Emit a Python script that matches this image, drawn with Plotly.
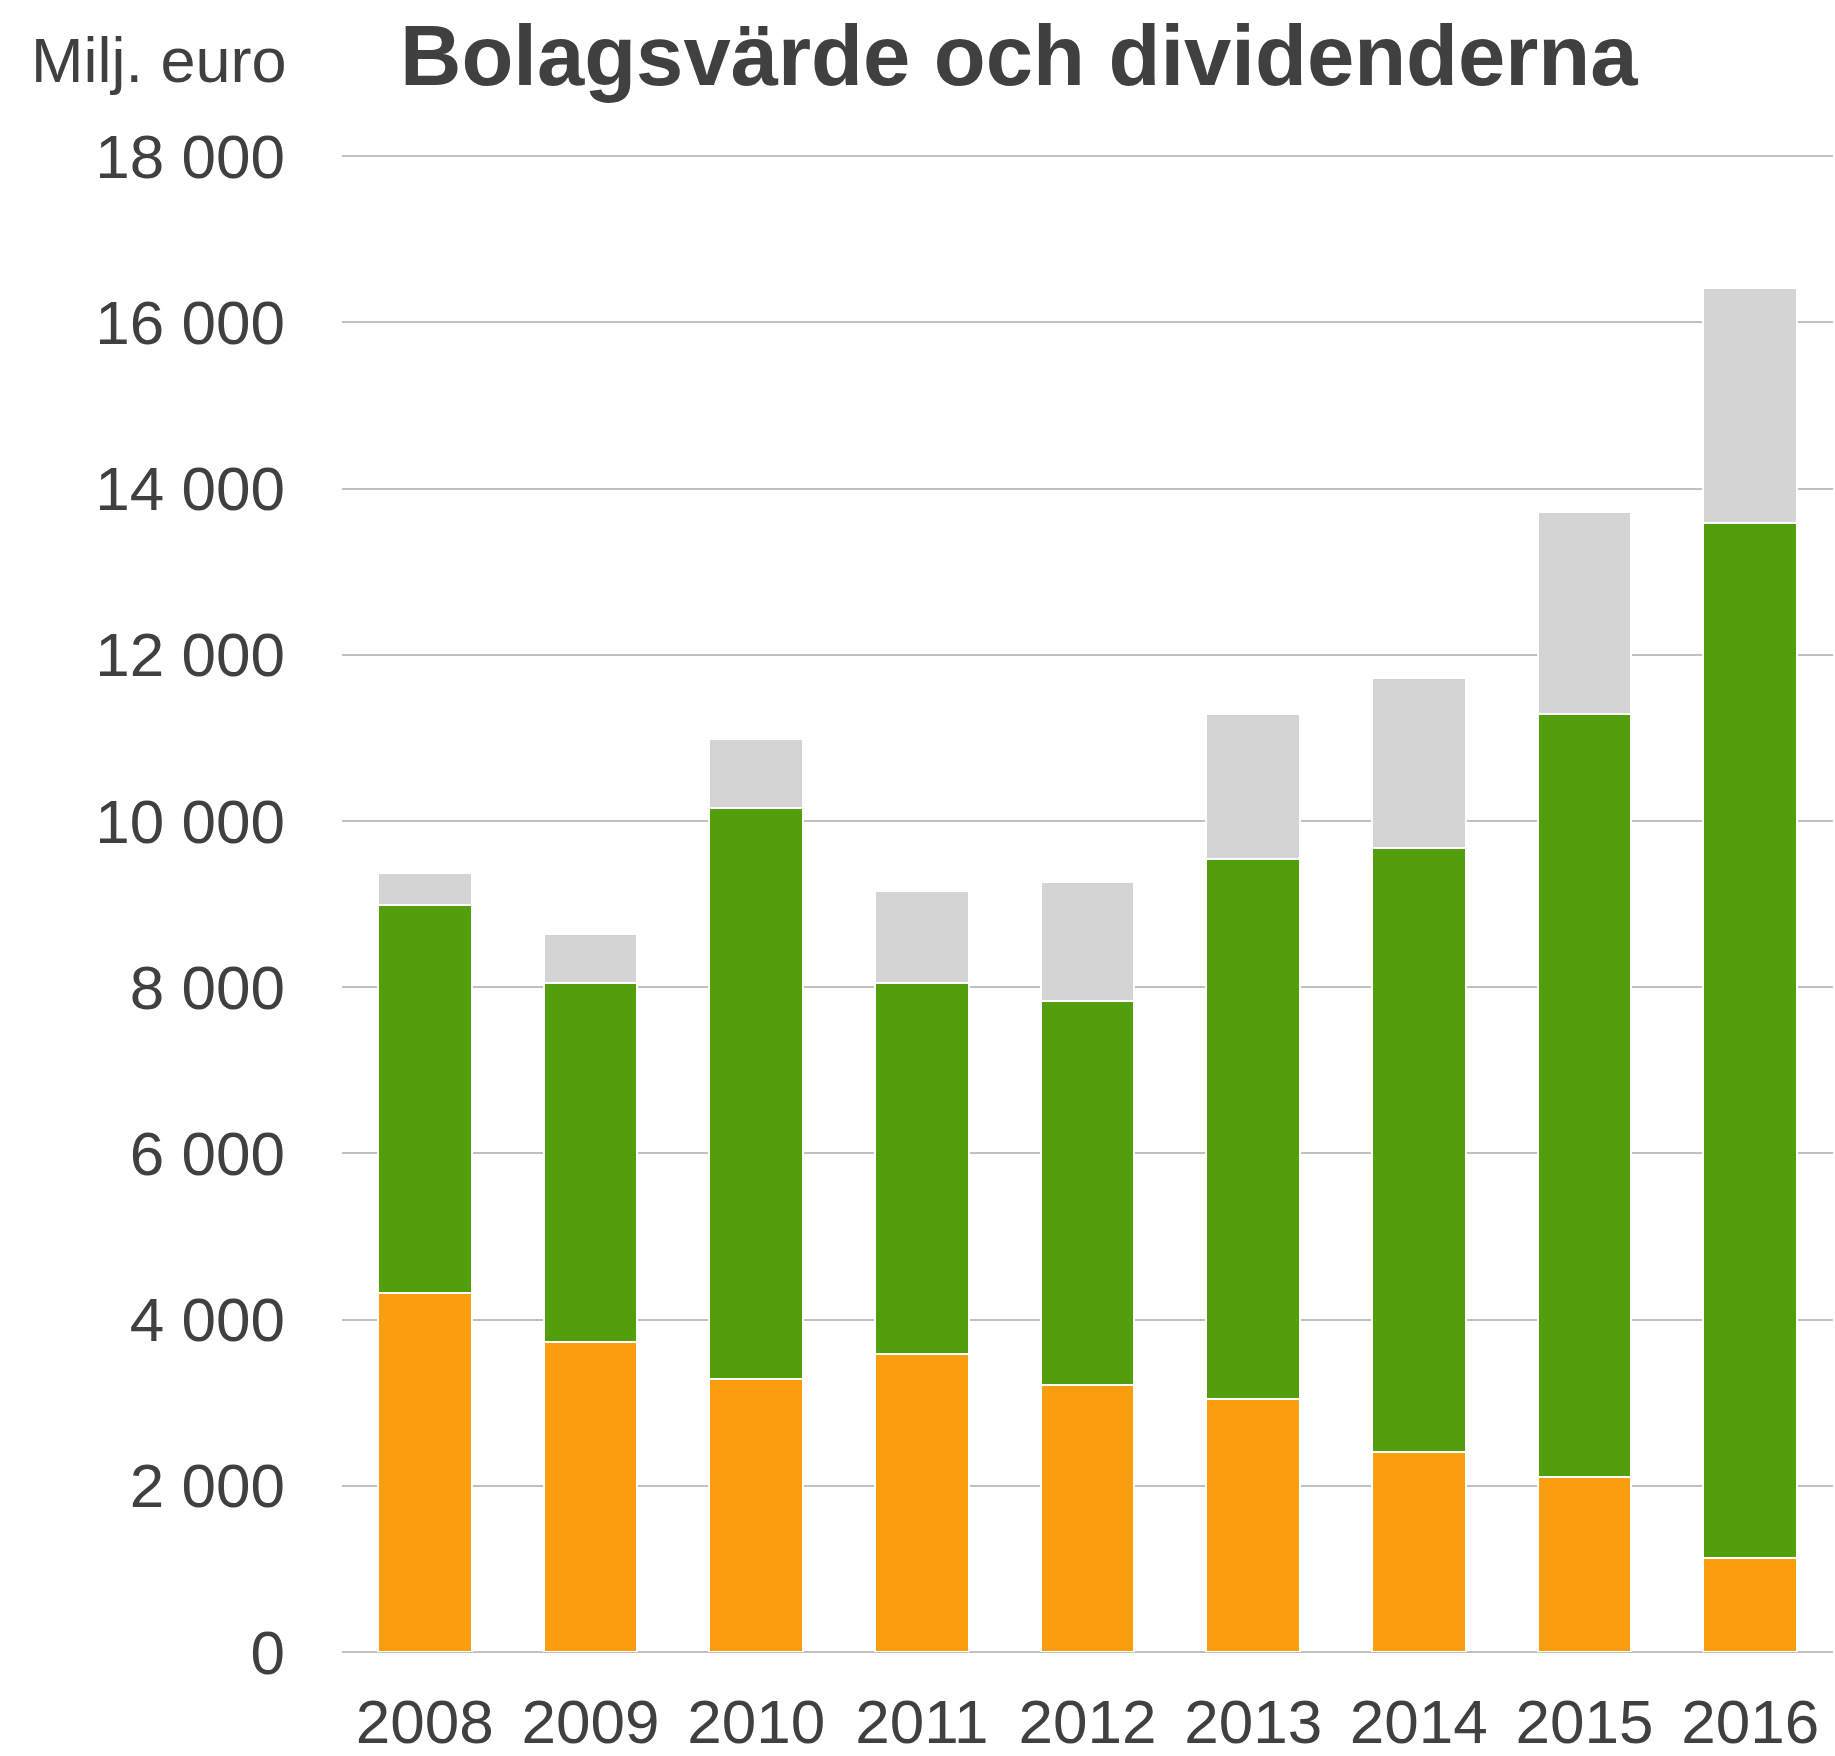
import plotly.graph_objects as go

years = ["2008", "2009", "2010", "2011", "2012", "2013", "2014", "2015", "2016"]
# stacked segments (Milj. euro)
orange_vals = [4320, 3730, 3280, 3590, 3210, 3040, 2410, 2100, 1130]
green_tops = [8990, 8050, 10160, 8050, 7830, 9540, 9670, 11290, 13580]
gray_tops = [9370, 8640, 10980, 9160, 9260, 11290, 11720, 13720, 16410]

green_vals = [g - o for g, o in zip(green_tops, orange_vals)]
gray_vals = [t - g for t, g in zip(gray_tops, green_tops)]

series = [
    ("Serie 1", orange_vals, "#FA9E10"),
    ("Serie 2", green_vals, "#529E0C"),
    ("Serie 3", gray_vals, "#D4D4D4"),
]

W, H = 1835, 1756
L, R, T, B = 342, 2, 154, 104
plot_w = W - L - R
plot_h = H - T - B

fig = go.Figure()
for name, vals, col in series:
    fig.add_trace(go.Bar(
        x=years, y=vals, name=name,
        marker=dict(color=col, line=dict(color="white", width=2)),
    ))

txt = "#404040"
font_family = "Liberation Sans, Arial, sans-serif"

fig.update_layout(
    width=W, height=H,
    margin=dict(l=L, r=R, t=T, b=B, pad=0),
    barmode="stack",
    bargap=0.435,
    showlegend=False,
    plot_bgcolor="white",
    paper_bgcolor="white",
    separators=", ",
    font=dict(family=font_family, color=txt, size=62),
    xaxis=dict(
        showgrid=False, showline=False, ticks="",
        tickfont=dict(size=62, color=txt),
        ticklabelstandoff=28, automargin=False,
    ),
    yaxis=dict(
        range=[0, 18025], tickvals=list(range(0, 18001, 2000)), tickformat=",d",
        showgrid=True, gridcolor="#C0C0C0", gridwidth=2,
        zeroline=True, zerolinecolor="#C0C0C0", zerolinewidth=2,
        showline=False, ticks="",
        tickfont=dict(size=62, color=txt),
        ticklabelstandoff=56, automargin=False,
    ),
    annotations=[
        dict(text="<b>Bolagsvärde och dividenderna</b>", xref="paper", yref="paper",
             x=(398 - L) / plot_w, y=(H - B - 55) / plot_h,
             xanchor="left", yanchor="middle", showarrow=False,
             font=dict(size=85, color=txt, family=font_family)),
        dict(text="Milj. euro", xref="paper", yref="paper",
             x=(289 - L) / plot_w, y=(H - B - 60) / plot_h,
             xanchor="right", yanchor="middle", showarrow=False,
             font=dict(size=63, color=txt, family=font_family)),
    ],
)

fig.write_html("out.html", config={"displayModeBar": False},
               post_script="document.body.style.margin='0';document.body.style.overflow='hidden';")
